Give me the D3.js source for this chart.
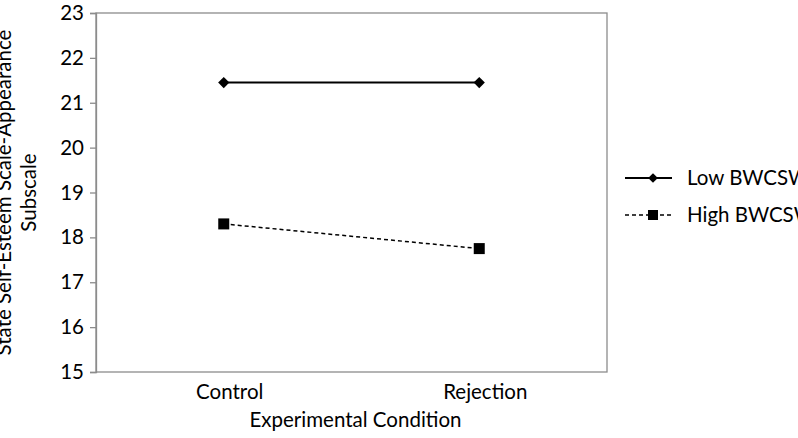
<!DOCTYPE html>
<html>
<head>
<meta charset="utf-8">
<script src="https://cdn.jsdelivr.net/npm/d3@7"></script>
<style>
  body { margin: 0; background: #fff; }
  svg { display: block; font-family: Lato, "Open Sans", sans-serif; }
</style>
</head>
<body>
<svg width="798" height="438"></svg>
<script>
var conditions = ["Control", "Rejection"];
var lowValues = [21.45, 21.45];
var highValues = [18.3, 17.75];
var seriesNames = ["Low BWCSW", "High BWCSW"];
var yTicks = [15, 16, 17, 18, 19, 20, 21, 22, 23];

var fontSize = 20.5;

var svg = d3.select("svg"),
    margin = {top: 13, right: 191, bottom: 66, left: 96},
    width = +svg.attr("width") - margin.left - margin.right,
    height = +svg.attr("height") - margin.top - margin.bottom;

var x = d3.scalePoint().domain(conditions).range([0, width]).padding(0.5);
var y = d3.scaleLinear().domain([15, 23]).range([height, 0]);

var g = svg.append("g")
    .attr("transform", "translate(" + margin.left + "," + margin.top + ")");

// frame
g.append("rect")
    .attr("x", 0).attr("y", 0)
    .attr("width", width).attr("height", height)
    .attr("fill", "none")
    .attr("stroke", "#8c8c8c")
    .attr("stroke-width", 1.3);

// Y axis
var yAxis = g.append("g")
    .call(d3.axisLeft(y).tickValues(yTicks).tickSize(6).tickPadding(6));
yAxis.select(".domain").attr("stroke", "#8c8c8c").attr("stroke-width", 1.3);
yAxis.selectAll(".tick line").attr("stroke", "#8c8c8c").attr("stroke-width", 1.3);
yAxis.selectAll("text")
    .attr("font-size", fontSize)
    .attr("font-family", "Lato, sans-serif")
    .attr("fill", "#000");

// X labels
g.selectAll(".xlab")
    .data(conditions)
    .enter().append("text")
        .attr("class", "xlab")
        .attr("x", function(d) { return x(d) + 6; })
        .attr("y", height + 27)
        .attr("text-anchor", "middle")
        .attr("font-size", fontSize)
        .text(function(d) { return d; });

g.append("text")
    .attr("x", width / 2 + 4)
    .attr("y", height + 55)
    .attr("text-anchor", "middle")
    .attr("font-size", fontSize)
    .text("Experimental Condition");

// Y title (first line runs off the page, as in the original)
var yt = svg.append("text")
    .attr("transform", "translate(0," + (margin.top + height / 2) + ") rotate(-90)")
    .attr("text-anchor", "middle")
    .attr("font-size", fontSize);
yt.append("tspan").attr("x", 0).attr("y", 11).text("State Self-Esteem Scale-Appearance");
yt.append("tspan").attr("x", 0).attr("y", 36).text("Subscale");

var line = d3.line()
    .x(function(d, i) { return x(conditions[i]); })
    .y(function(d) { return y(d); });

// Low series
g.append("path")
    .datum(lowValues)
    .attr("d", line)
    .attr("fill", "none")
    .attr("stroke", "#000")
    .attr("stroke-width", 2);

g.selectAll(".diamond")
    .data(lowValues)
    .enter().append("path")
        .attr("class", "diamond")
        .attr("transform", function(d, i) { return "translate(" + x(conditions[i]) + "," + y(d) + ")"; })
        .attr("d", d3.symbol().type(d3.symbolDiamond2).size(80))
        .attr("fill", "#000");

// High series
g.append("path")
    .datum(highValues)
    .attr("d", line)
    .attr("fill", "none")
    .attr("stroke", "#000")
    .attr("stroke-width", 1.5)
    .attr("stroke-dasharray", "4,3");

g.selectAll(".square")
    .data(highValues)
    .enter().append("rect")
        .attr("class", "square")
        .attr("x", function(d, i) { return x(conditions[i]) - 5.5; })
        .attr("y", function(d) { return y(d) - 5.5; })
        .attr("width", 11)
        .attr("height", 11)
        .attr("fill", "#000");

// Legend
var legend = svg.append("g").attr("transform", "translate(625,178)");

legend.append("line")
    .attr("x1", 0).attr("x2", 47).attr("y1", 0).attr("y2", 0)
    .attr("stroke", "#000").attr("stroke-width", 2);
legend.append("path")
    .attr("transform", "translate(28,0)")
    .attr("d", d3.symbol().type(d3.symbolDiamond2).size(60))
    .attr("fill", "#000");
legend.append("text")
    .attr("x", 62).attr("y", 7)
    .attr("font-size", fontSize)
    .text(seriesNames[0]);

legend.append("line")
    .attr("x1", 0).attr("x2", 47).attr("y1", 37).attr("y2", 37)
    .attr("stroke", "#000").attr("stroke-width", 1.5)
    .attr("stroke-dasharray", "4,3");
legend.append("rect")
    .attr("x", 23).attr("y", 32)
    .attr("width", 10).attr("height", 10)
    .attr("fill", "#000");
legend.append("text")
    .attr("x", 62).attr("y", 44)
    .attr("font-size", fontSize)
    .text(seriesNames[1]);
</script>
</body>
</html>
